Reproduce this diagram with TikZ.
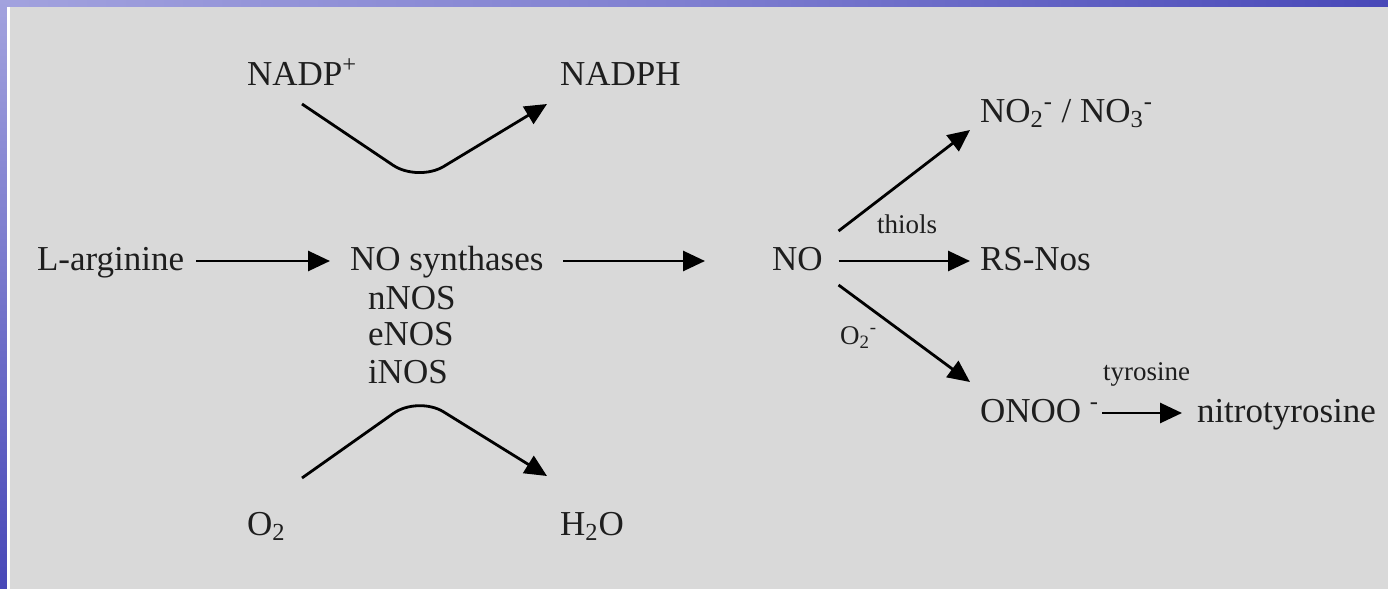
\documentclass[tikz,border=0pt]{standalone}
\usepackage{fontspec}
\setmainfont{Liberation Serif}
\usetikzlibrary{arrows.meta,calc}
\definecolor{panel}{HTML}{D9D9D9}
\definecolor{ink}{HTML}{1E1E1E}
\definecolor{blueL}{HTML}{A2A2DE}
\definecolor{blueM}{HTML}{7E7ED0}
\definecolor{blueD}{HTML}{4848B8}
\begin{document}
\begin{tikzpicture}[x=0.5pt,y=-0.5pt,
  lbl/.style={anchor=base west,inner sep=0pt,outer sep=0pt,text=ink,
    font=\fontsize{17.5pt}{20pt}\selectfont},
  sml/.style={anchor=base west,inner sep=0pt,outer sep=0pt,text=ink,
    font=\fontsize{13.5pt}{15pt}\selectfont},
  arr/.style={draw=black,line width=1.4pt,
    -{Triangle[length=11pt,width=10pt]}},
  curvearr/.style={arr,rounded corners=15pt}]
\useasboundingbox (0,0) rectangle (1388,589);
% frame
\fill[blueD] (0,0) rectangle (1388,589);
\shade[left color=blueL,right color=blueD,middle color=blueM] (0,0) rectangle (1388,7);
\shade[top color=blueL,bottom color=blueD] (0,0) rectangle (7,589);
\fill[white] (7,7) rectangle (10,589);
\fill[panel] (10,7) rectangle (1388,589);
% nodes
\node[lbl] (nadp)  at (247,85)  {NADP\textsuperscript{+}};
\node[lbl] (nadph) at (560,85)  {NADPH};
\node[lbl] (larg)  at (37,270)  {L-arginine};
\node[lbl] (nos)   at (350,270) {NO synthases};
\node[lbl] (nnos)  at (368,309) {nNOS};
\node[lbl] (enos)  at (368,345) {eNOS};
\node[lbl] (inos)  at (368,383) {iNOS};
\node[lbl] (o2)    at (247,535) {O\textsubscript{2}};
\node[lbl] (h2o)   at (560,535) {H\textsubscript{2}O};
\node[lbl] (no)    at (772,270) {NO};
\node[lbl] (no2)   at (980,122) {NO\textsubscript{2}\textsuperscript{-} / NO\textsubscript{3}\textsuperscript{-}};
\node[lbl] (rs)    at (980,270) {RS-Nos};
\node[lbl] (onoo)  at (980,422) {ONOO \textsuperscript{-}};
\node[lbl] (nitro) at (1197,422) {nitrotyrosine};
\node[sml] (thiols) at (877,233) {thiols};
\node[sml] (o2m)   at (840,344) {O\textsubscript{2}\textsuperscript{-}};
\node[sml] (tyr)   at (1103,380) {tyrosine};
% curved arrows
\coordinate (c1s) at ($(nadp.base west)+(55,19)$);
\coordinate (c1m) at (418,182);
\coordinate (c1e) at ($(nadph.base west)+(-13,19)$);
\draw[curvearr] (c1s) -- (c1m) -- (c1e);
\coordinate (c2s) at ($(o2.base west)+(55,-57)$);
\coordinate (c2m) at (418,396);
\coordinate (c2e) at ($(h2o.base west)+(-13,-59)$);
\draw[curvearr] (c2s) -- (c2m) -- (c2e);
% straight arrows
\draw[arr] ($(larg.base east)+(12,-9)$) -- ($(nos.base west)+(-20,-9)$);
\draw[arr] ($(nos.base east)+(20,-9)$) -- ($(no.base west)+(-67,-9)$);
\draw[arr] ($(no.base east)+(16,-9)$) -- ($(rs.base west)+(-10,-9)$);
\draw[arr] ($(no.base east)+(16,-39)$) -- ($(no2.base west)+(-10,8)$);
\draw[arr] ($(no.base east)+(16,15)$) -- ($(onoo.base west)+(-10,-40)$);
\draw[arr] ($(onoo.base east)+(3,-9)$) -- ($(nitro.base west)+(-15,-9)$);
\end{tikzpicture}
\end{document}
